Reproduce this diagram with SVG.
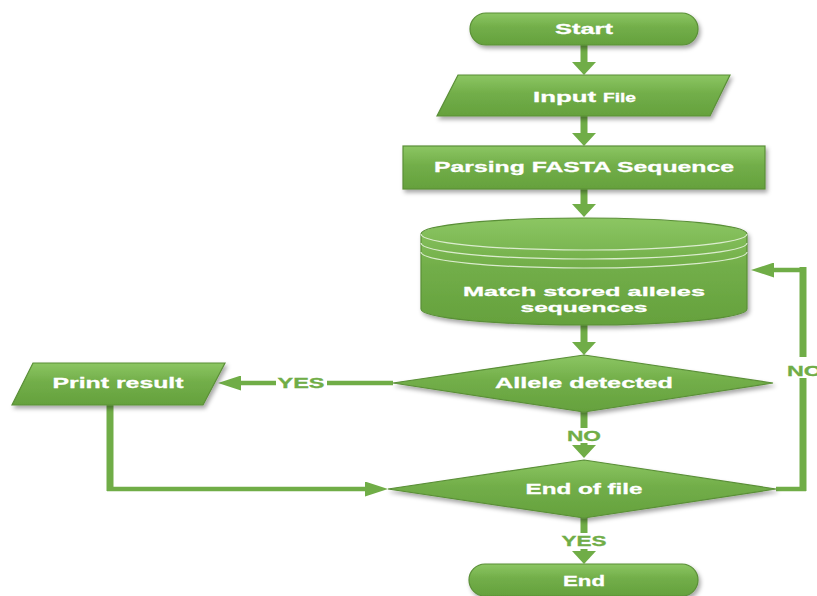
<svg xmlns="http://www.w3.org/2000/svg" width="817" height="596" viewBox="0 0 817 596">
<style>
.shape{fill:url(#g);stroke:#5a8f37;stroke-width:1.2;filter:url(#sh)}
.ring{fill:none;stroke:#e6f2dc;stroke-width:1.2;opacity:.9}
.t{font-family:"Liberation Sans",Arial,sans-serif;font-weight:bold;fill:#fff;font-size:15px;text-anchor:middle;stroke:#fff;stroke-width:0.3}
.lbl{font-family:"Liberation Sans",Arial,sans-serif;font-weight:bold;fill:#70ad47;font-size:15px;text-anchor:middle;stroke:#70ad47;stroke-width:0.3}
.v{fill:none;stroke:#70ad47;stroke-width:7}
.h{fill:none;stroke:#70ad47;stroke-width:4.5}
</style>
<defs>
<linearGradient id="g" x1="0" y1="0" x2="0" y2="1">
<stop offset="0" stop-color="#8cc663"/>
<stop offset="0.45" stop-color="#72ae49"/>
<stop offset="1" stop-color="#65a13d"/>
</linearGradient>
<filter id="sh" x="-10%" y="-20%" width="120%" height="150%">
<feDropShadow dx="2" dy="3" stdDeviation="2" flood-color="#000" flood-opacity="0.35"/>
</filter>
<marker id="av" markerUnits="userSpaceOnUse" viewBox="0 0 13 24" markerWidth="13" markerHeight="24" refX="1" refY="12" orient="auto">
<path d="M0,0 L13,12 L0,24 Z" fill="#70ad47"/>
</marker>
<marker id="ah" markerUnits="userSpaceOnUse" viewBox="0 0 23 15" markerWidth="23" markerHeight="15" refX="1" refY="7.5" orient="auto">
<path d="M0,0 L23,7.5 L0,15 Z" fill="#70ad47"/>
</marker>
</defs>

<g id="connectors">
<path class="v" d="M584,45 V63" marker-end="url(#av)"/>
<path class="v" d="M584,116 V134" marker-end="url(#av)"/>
<path class="v" d="M584,189 V205" marker-end="url(#av)"/>
<path class="v" d="M584,325 V343" marker-end="url(#av)"/>
<path class="v" d="M584,412 V428"/>
<path class="v" d="M584,443 V446" marker-end="url(#av)"/>
<path class="v" d="M584,518 V533"/>
<path class="v" d="M584,549 V552" marker-end="url(#av)"/>
<path class="h" d="M393,383 H327"/>
<path class="h" d="M276,383 H240" marker-end="url(#ah)"/>
<path class="v" d="M110,404 V491"/>
<path class="h" d="M107,489 H366" marker-end="url(#ah)"/>
<path class="h" d="M776,489 H806"/>
<path class="v" d="M803,491 V378"/>
<path class="v" d="M803,357 V267"/>
<path class="h" d="M806,270 H773" marker-end="url(#ah)"/>
<text class="lbl" x="301" y="388" textLength="47" lengthAdjust="spacingAndGlyphs">YES</text>
<text class="lbl" x="584" y="441" textLength="34" lengthAdjust="spacingAndGlyphs">NO</text>
<text class="lbl" x="584" y="546" textLength="45" lengthAdjust="spacingAndGlyphs">YES</text>
<text class="lbl" x="787" y="376" textLength="35" lengthAdjust="spacingAndGlyphs" style="text-anchor:start">NO</text>
</g>

<g id="start">
<rect class="shape" x="470" y="13" width="228" height="32" rx="16"/>
<text class="t" x="584" y="34" textLength="58" lengthAdjust="spacingAndGlyphs">Start</text>
</g>

<g id="input">
<polygon class="shape" points="458,75 730,75 710,116 437,116"/>
<text class="t" x="533" y="102" textLength="63" lengthAdjust="spacingAndGlyphs" style="text-anchor:start">Input</text>
<text class="t" x="603" y="102" textLength="33" lengthAdjust="spacingAndGlyphs" style="text-anchor:start;font-size:12px">File</text>
</g>

<g id="parsing">
<rect class="shape" x="403" y="146" width="362" height="43"/>
<text class="t" x="584" y="172" textLength="300" lengthAdjust="spacingAndGlyphs">Parsing FASTA Sequence</text>
</g>

<g id="match">
<path class="shape" d="M421,234 A163,16 0 0 1 747,234 V309 A163,16 0 0 1 421,309 Z"/>
<path class="ring" d="M421,234 A163,16 0 0 0 747,234"/>
<path class="ring" d="M421,243 A163,16 0 0 0 747,243"/>
<path class="ring" d="M421,252 A163,16 0 0 0 747,252"/>
<text class="t" x="584" y="296" textLength="242" lengthAdjust="spacingAndGlyphs" style="font-size:13.5px">Match stored alleles</text>
<text class="t" x="584" y="312" textLength="127" lengthAdjust="spacingAndGlyphs" style="font-size:13.5px">sequences</text>
</g>

<g id="allele">
<polygon class="shape" points="584,355 773,383 584,412 393,383"/>
<text class="t" x="584" y="388" textLength="178" lengthAdjust="spacingAndGlyphs">Allele detected</text>
</g>

<g id="print">
<polygon class="shape" points="33,363 225,363 203,405 12,405"/>
<text class="t" x="118" y="388" textLength="131" lengthAdjust="spacingAndGlyphs">Print result</text>
</g>

<g id="eof">
<polygon class="shape" points="584,460 776,489 584,518 388,489"/>
<text class="t" x="584" y="494" textLength="117" lengthAdjust="spacingAndGlyphs">End of file</text>
</g>

<g id="end">
<rect class="shape" x="469" y="564" width="229" height="32" rx="16"/>
<text class="t" x="584" y="586" textLength="42" lengthAdjust="spacingAndGlyphs">End</text>
</g>
</svg>
